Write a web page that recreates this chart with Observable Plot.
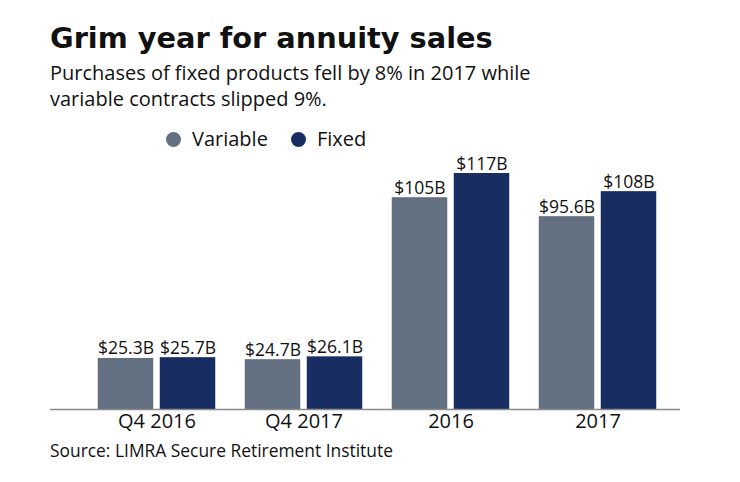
<!DOCTYPE html>
<html>
<head>
<meta charset="utf-8">
<script src="https://cdn.jsdelivr.net/npm/d3@7"></script>
<script src="https://cdn.jsdelivr.net/npm/@observablehq/plot@0.6"></script>
<style>
  html, body { margin: 0; padding: 0; background: #fff; }
  body { width: 740px; height: 482px; position: relative; overflow: hidden; font-family: "Open Sans", Lato, sans-serif; color: #111; }
  .abs { position: absolute; left: 50px; white-space: nowrap; }
  #title { top: 20px; font-family: "DejaVu Sans", sans-serif; font-size: 28.8px; line-height: 36px; font-weight: 700; }
  #subtitle { top: 60px; font-size: 20px; line-height: 26px; }
  #legend { top: 127px; left: 166px; font-size: 20px; line-height: 24px; display: flex; align-items: center; }
  #legend .sw { width: 15px; height: 15px; border-radius: 50%; display: inline-block; margin-right: 11px; }
  #legend .item { display: flex; align-items: center; margin-right: 23px; }
  #chart { position: absolute; top: 150px; left: 0; }
  #source { top: 440px; font-size: 17.4px; line-height: 20px; }
</style>
</head>
<body>
<div id="title" class="abs">Grim year for annuity sales</div>
<div id="subtitle" class="abs">Purchases of fixed products fell by 8% in 2017 while<br>variable contracts slipped 9%.</div>
<div id="legend" class="abs"></div>
<div id="chart"></div>
<div id="source" class="abs">Source: LIMRA Secure Retirement Institute</div>
<script>
const groups = ["Q4 2016", "Q4 2017", "2016", "2017"];
const seriesNames = ["Variable", "Fixed"];
const variableValues = [25.3, 24.7, 105, 95.6];
const fixedValues = [25.7, 26.1, 117, 108];
const variableLabels = ["$25.3B", "$24.7B", "$105B", "$95.6B"];
const fixedLabels = ["$25.7B", "$26.1B", "$117B", "$108B"];
const colors = ["#627082", "#182e62"];

const variableData = groups.map((g, i) => ({group: g, series: "Variable", value: variableValues[i], label: variableLabels[i]}));
const fixedData = groups.map((g, i) => ({group: g, series: "Fixed", value: fixedValues[i], label: fixedLabels[i]}));

// legend
const legend = document.getElementById("legend");
seriesNames.forEach((s, i) => {
  const item = document.createElement("span");
  item.className = "item";
  const sw = document.createElement("span");
  sw.className = "sw";
  sw.style.background = colors[i];
  item.appendChild(sw);
  item.appendChild(document.createTextNode(s));
  legend.appendChild(item);
});

// bar placement inside each group band (band = 147.5px)
const outer = 14.75, inner = 76.75, shift = 31;

const chart = Plot.plot({
  width: 740,
  height: 290,
  marginLeft: 50,
  marginRight: 60,
  marginTop: 23,
  marginBottom: 31,
  style: {fontFamily: "'Open Sans', Lato, sans-serif", fontSize: "20px", color: "#111", background: "transparent"},
  x: {domain: groups, paddingInner: 0, paddingOuter: 0.1356, align: 0.78, tickSize: 0, tickPadding: 4, label: null},
  y: {domain: [0, 117], axis: null},
  color: {domain: seriesNames, range: colors},
  marks: [
    Plot.barY(variableData, {x: "group", y: "value", fill: "series", insetLeft: outer, insetRight: inner}),
    Plot.barY(fixedData, {x: "group", y: "value", fill: "series", insetLeft: inner, insetRight: outer}),
    Plot.text(variableData, {x: "group", y: "value", text: "label", dx: -shift, dy: -4, lineAnchor: "bottom", fontSize: 17.5, fill: "#111"}),
    Plot.text(fixedData, {x: "group", y: "value", text: "label", dx: shift, dy: -4, lineAnchor: "bottom", fontSize: 17.5, fill: "#111"}),
    Plot.ruleY([0], {stroke: "#8a8a8a", strokeWidth: 1.3})
  ]
});
document.getElementById("chart").appendChild(chart);
</script>
</body>
</html>
